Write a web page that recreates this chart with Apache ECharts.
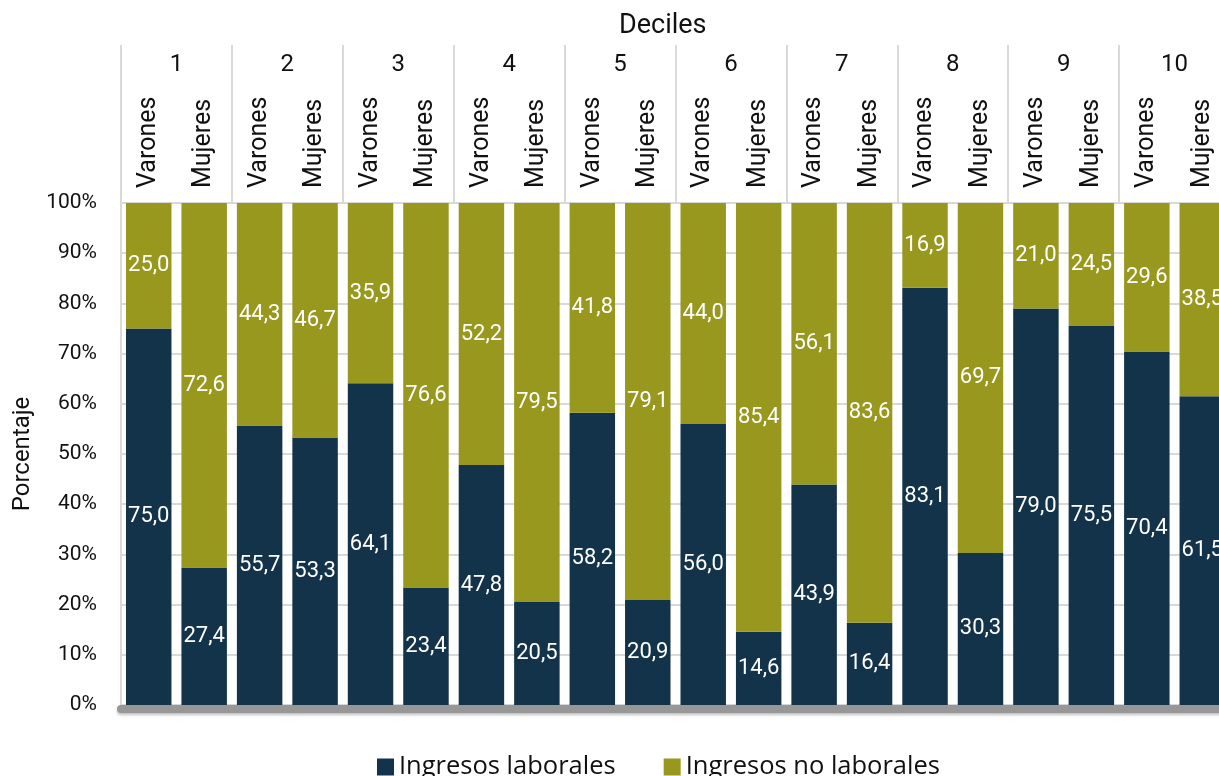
<!DOCTYPE html>
<html lang="es">
<head>
<meta charset="UTF-8">
<title>Ingresos por deciles</title>
<script src="https://cdn.jsdelivr.net/npm/echarts@6/dist/echarts.min.js"></script>
<style>
  html, body { margin: 0; padding: 0; background: #fff; }
  #main { width: 1219px; height: 776px; }
</style>
</head>
<body>
<div id="main"></div>
<script>
// deciles y sexos
var deciles = ['1', '2', '3', '4', '5', '6', '7', '8', '9', '10'];
var sexos = ['Varones', 'Mujeres'];
// valores por barra: V1, M1, V2, M2, ...
var laborales = [75.0, 27.4, 55.7, 53.3, 64.1, 23.4, 47.8, 20.5, 58.2, 20.9,
                 56.0, 14.6, 43.9, 16.4, 83.1, 30.3, 79.0, 75.5, 70.4, 61.5];
var noLaborales = [25.0, 72.6, 44.3, 46.7, 35.9, 76.6, 52.2, 79.5, 41.8, 79.1,
                   44.0, 85.4, 56.1, 83.6, 16.9, 69.7, 21.0, 24.5, 29.6, 38.5];

var categorias = [];
deciles.forEach(function (d) {
  sexos.forEach(function (s) { categorias.push(s); });
});

var fuente = 'Roboto';
function etiqueta(p) {
  return p.value.toFixed(1).replace('.', ',');
}

var myChart = echarts.init(document.getElementById('main'));
var option = {
  animation: false,
  title: {
    text: 'Deciles',
    left: 614,
    top: 8,
    textStyle: { fontFamily: fuente, fontSize: 27, fontWeight: 'normal', color: '#111' }
  },
  legend: {
    data: ['Ingresos laborales', 'Ingresos no laborales'],
    left: 372,
    top: 749,
    itemWidth: 17,
    itemHeight: 17,
    itemGap: 48,
    icon: 'rect',
    textStyle: { fontFamily: 'Open Sans', fontSize: 25.5, color: '#111' }
  },
  grid: { left: 121, right: -11, top: 203, bottom: 71, outerBoundsMode: 'none', containLabel: false },
  xAxis: [{
    type: 'category',
    position: 'top',
    data: categorias,
    axisLine: { show: false },
    axisTick: { show: false },
    axisLabel: {
      rotate: 90,
      margin: 15,
      fontFamily: fuente,
      fontSize: 25,
      color: '#111'
    }
  }, {
    type: 'category',
    position: 'top',
    data: deciles,
    axisLine: { show: false },
    axisTick: { show: true, length: 158, lineStyle: { color: '#d9d9d9', width: 2 } },
    axisLabel: { margin: 126, fontFamily: fuente, fontSize: 24, color: '#111' }
  }, {
    type: 'category',
    position: 'bottom',
    offset: 4,
    data: categorias,
    axisLine: {
      show: true,
      lineStyle: { color: '#979797', width: 8, shadowColor: 'rgba(0,0,0,0.25)', shadowBlur: 3, shadowOffsetY: 2 }
    },
    axisTick: { show: false },
    axisLabel: { show: false }
  }],
  yAxis: {
    type: 'value',
    min: 0,
    max: 100,
    interval: 10,
    name: 'Porcentaje',
    nameLocation: 'middle',
    nameGap: 86,
    nameTextStyle: { fontFamily: fuente, fontSize: 24, color: '#111' },
    axisLine: { show: true, lineStyle: { color: '#d9d9d9', width: 2 } },
    axisTick: { show: false },
    splitLine: { lineStyle: { color: '#d9d9d9', width: 2 } },
    axisLabel: {
      margin: 24,
      fontFamily: fuente,
      fontSize: 21,
      color: '#111',
      formatter: '{value}%'
    }
  },
  series: [{
    name: 'Ingresos laborales',
    type: 'bar',
    stack: 'total',
    data: laborales,
    barCategoryGap: '18%',
    itemStyle: { color: '#12334a' },
    label: { show: true, position: 'inside', formatter: etiqueta, fontFamily: fuente, fontSize: 22, color: '#fff' }
  }, {
    name: 'Ingresos no laborales',
    type: 'bar',
    stack: 'total',
    data: noLaborales,
    barCategoryGap: '18%',
    itemStyle: { color: '#98971e' },
    label: { show: true, position: 'inside', formatter: etiqueta, fontFamily: fuente, fontSize: 22, color: '#fff' }
  }]
};
myChart.setOption(option);
</script>
</body>
</html>
